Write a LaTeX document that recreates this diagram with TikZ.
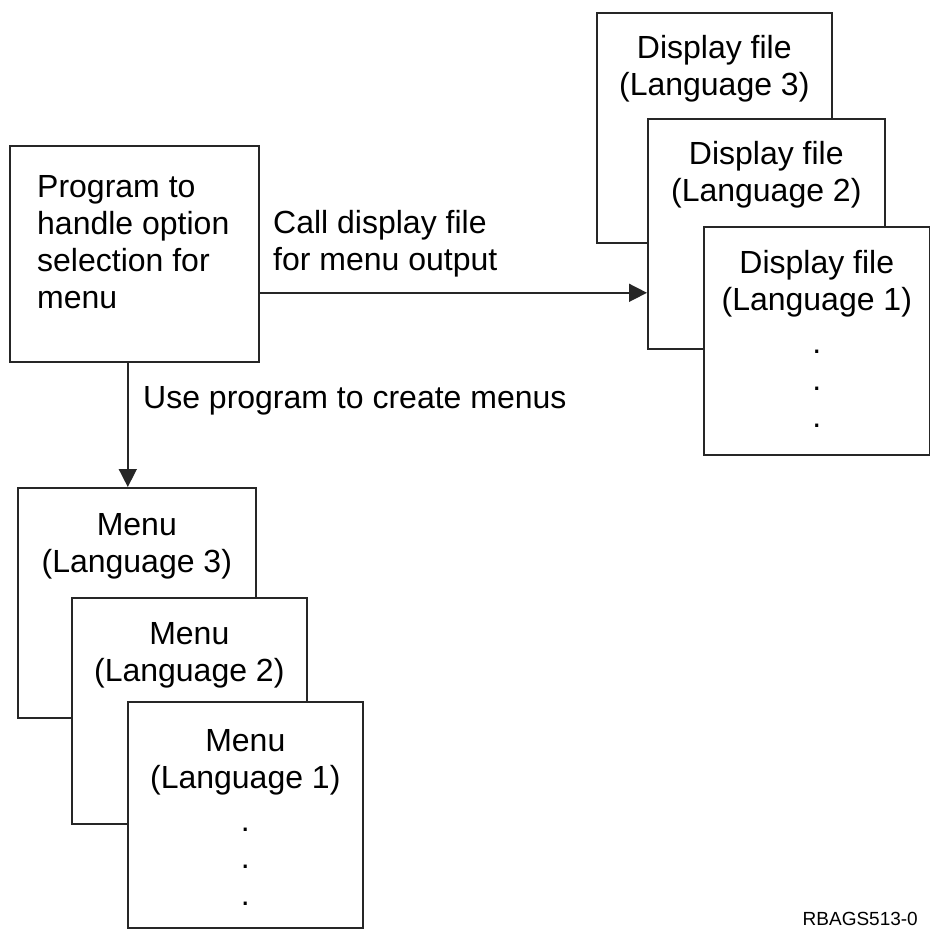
\documentclass[tikz,border=0pt]{standalone}
\usepackage{fontspec}
\setmainfont{Liberation Sans}
\usetikzlibrary{arrows.meta}
\tikzset{
  sheet/.style={draw=black!85, fill=white, line width=1.6pt, anchor=north west, inner sep=0pt},
  caption/.style={font=\fontsize{32}{37}\selectfont, align=center, anchor=base, inner sep=0pt},
  flow/.style={draw=black!85, line width=1.6pt, -{Triangle[length=18pt,width=18pt]}},
}
\begin{document}
\begin{tikzpicture}[x=1pt,y=-1pt]
  \useasboundingbox (0,0) rectangle (930,929);
  % program (base of a caption = baseline of its last line)
  \node[sheet, minimum width=249pt, minimum height=216pt] (prog) at (9,145) {};
  \node[caption, align=left, anchor=base west] (progtxt) at ([xshift=28pt,yshift=-163pt]prog.north west)
    {Program to\\handle option\\selection for\\menu};
  % display files
  \node[sheet, minimum width=235pt, minimum height=230pt] (dsp3) at (596,12) {};
  \node[caption] (dsp3txt) at ([yshift=-83pt]dsp3.north) {Display file\\(Language 3)};
  \node[sheet, minimum width=237pt, minimum height=230pt] (dsp2) at (647,118) {};
  \node[caption] (dsp2txt) at ([yshift=-83pt]dsp2.north) {Display file\\(Language 2)};
  \node[sheet, minimum width=226pt, minimum height=228pt] (dsp1) at (703,226) {};
  \node[caption] (dsp1txt) at ([yshift=-201pt]dsp1.north) {Display file\\(Language 1)\\[6pt].\\.\\.};
  % menus
  \node[sheet, minimum width=238pt, minimum height=230pt] (menu3) at (17,487) {};
  \node[caption] (menu3txt) at ([yshift=-85pt]menu3.north) {Menu\\(Language 3)};
  \node[sheet, minimum width=235pt, minimum height=226pt] (menu2) at (71,597) {};
  \node[caption] (menu2txt) at ([yshift=-84pt]menu2.north) {Menu\\(Language 2)};
  \node[sheet, minimum width=235pt, minimum height=226pt] (menu1) at (127,701) {};
  \node[caption] (menu1txt) at ([yshift=-204pt]menu1.north) {Menu\\(Language 1)\\[6pt].\\.\\.};
  % connectors
  \draw[flow] ([yshift=-39pt]prog.east) -- ([yshift=-39pt]prog.east -| dsp2.west);
  \draw[flow] ([xshift=-6.5pt]prog.south) -- ([xshift=-6.5pt]prog.south |- menu3.north);
  \node[caption, align=left, anchor=base west] (calltxt) at (273,270) {Call display file\\for menu output};
  \node[caption, anchor=base west] (usetxt) at (143,408) {Use program to create menus};
  \node[caption, font=\fontsize{19}{22}\selectfont, anchor=base east] (figid) at (918,925) {RBAGS513-0};
\end{tikzpicture}
\end{document}
